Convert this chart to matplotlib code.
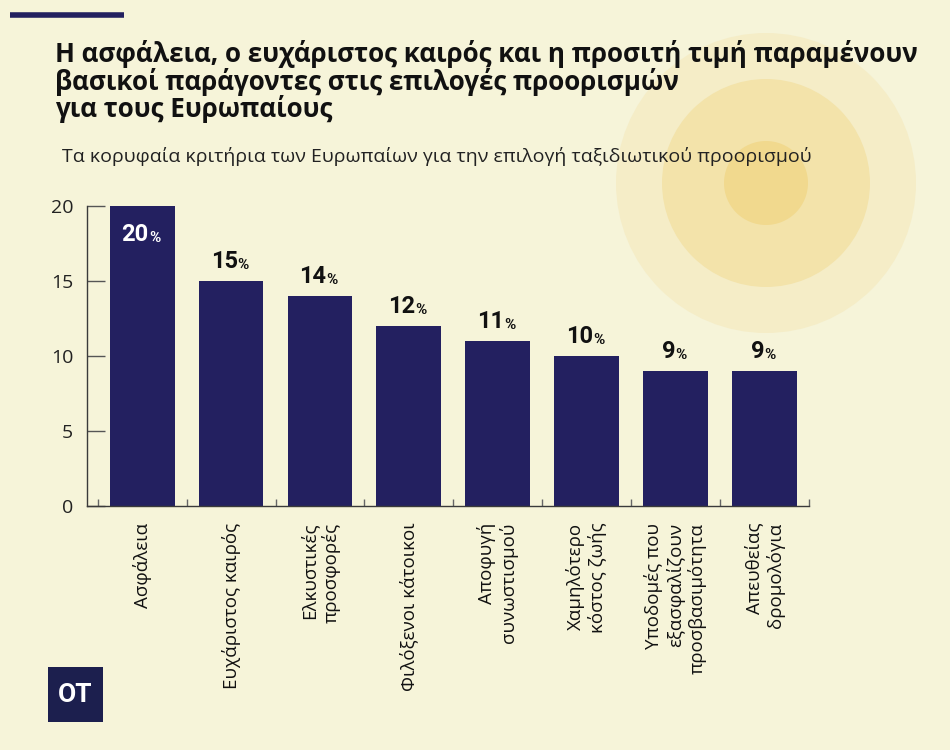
import matplotlib
matplotlib.use("Agg")
import matplotlib.pyplot as plt
from matplotlib.patches import Circle, Rectangle

# ------------------------------------------------------------
# Data
# ------------------------------------------------------------
categories = [
    "Ασφάλεια",
    "Ευχάριστος καιρός",
    "Ελκυστικές\nπροσφορές",
    "Φιλόξενοι κάτοικοι",
    "Αποφυγή\nσυνωστισμού",
    "Χαμηλότερο\nκόστος ζωής",
    "Υποδομές που\nεξασφαλίζουν\nπροσβασιμότητα",
    "Απευθείας\nδρομολόγια",
]
values = [20, 15, 14, 12, 11, 10, 9, 9]
y_ticks = [0, 5, 10, 15, 20]

title = ("Η ασφάλεια, ο ευχάριστος καιρός και η προσιτή τιμή παραμένουν\n"
         "βασικοί παράγοντες στις επιλογές προορισμών\n"
         "για τους Ευρωπαίους")
subtitle = "Τα κορυφαία κριτήρια των Ευρωπαίων για την επιλογή ταξιδιωτικού προορισμού"

# ------------------------------------------------------------
# Style
# ------------------------------------------------------------
BG = "#F6F4D9"
NAVY = "#232060"
LOGO = "#1C1F4E"
AXIS_COL = "#3a3a3a"
TXT = "#111111"

fig = plt.figure(figsize=(9.5, 7.5), dpi=100)
fig.patch.set_facecolor(BG)

# background layer in pixel-like coords
bg = fig.add_axes([0, 0, 1, 1], zorder=0)
bg.set_xlim(0, 950)
bg.set_ylim(750, 0)
bg.axis("off")
for r, c in [(150, "#F5EDC7"), (104, "#F3E3AA"), (42, "#F1D98E")]:
    bg.add_patch(Circle((766, 183), r, facecolor=c, edgecolor="none"))
bg.plot([10, 124], [15, 15], color=NAVY, lw=4, solid_capstyle="butt")
bg.add_patch(Rectangle((48, 667), 55, 55, facecolor=LOGO, edgecolor="none"))
bg.text(75.5, 695, "OT", color="white", fontsize=19, fontweight="bold",
        family=["Roboto", "DejaVu Sans"], ha="center", va="center")

fig.text(55 / 950, 1 - 40 / 750, title, fontsize=18.7, fontweight="bold",
         family=["Open Sans", "DejaVu Sans"], color=TXT, ha="left", va="top",
         linespacing=0.98)
fig.text(62 / 950, 1 - 156 / 750, subtitle, fontsize=14, fontweight="normal",
         family=["Open Sans", "DejaVu Sans"], color="#222222", ha="left", va="center")

# ------------------------------------------------------------
# Chart
# ------------------------------------------------------------
ax = fig.add_axes([87 / 950, 1 - 506 / 750, (809 - 87) / 950, 300 / 750], zorder=2)
ax.set_facecolor("none")

x = list(range(len(categories)))
bars = ax.bar(x, values, width=0.73, color=NAVY, zorder=2)

ax.set_xlim(-0.62, len(categories) - 0.5)
ax.set_ylim(0, 20)

for s in ["top", "right"]:
    ax.spines[s].set_visible(False)
for s in ["left", "bottom"]:
    ax.spines[s].set_color(AXIS_COL)
    ax.spines[s].set_linewidth(1.0)

ax.set_yticks(y_ticks)
ax.set_yticklabels([str(v) for v in y_ticks], fontsize=14,
                   family=["Open Sans", "DejaVu Sans"], color="#222222")
ax.tick_params(axis="y", direction="in", length=13, width=1.0, color="#555555", pad=10)

ax.set_xticks(x)
ax.set_xticklabels(categories, rotation=90, fontsize=13.5,
                   family=["Open Sans", "DejaVu Sans"], color=TXT,
                   ha="center", va="top", multialignment="right", linespacing=1.2)
ax.tick_params(axis="x", which="major", length=0, pad=12)
ax.set_xticks([i - 0.5 for i in range(len(categories) + 1)], minor=True)
ax.tick_params(axis="x", which="minor", direction="in", length=5, width=1.0, color="#666666")

# value labels: big digits + small percent sign
for i, v in enumerate(values):
    inside = v == max(values)
    col = "white" if inside else TXT
    if inside:
        num = ax.annotate(str(v), xy=(i, v), xytext=(-5, -12), textcoords="offset points",
                          ha="center", va="top", fontsize=17, fontweight="bold",
                          family=["Roboto", "DejaVu Sans"], color=col, zorder=3)
    else:
        num = ax.annotate(str(v), xy=(i, v), xytext=(-5, 6), textcoords="offset points",
                          ha="center", va="bottom", fontsize=17, fontweight="bold",
                          family=["Roboto", "DejaVu Sans"], color=col, zorder=3)
    ax.annotate("%", xy=(1, 0.02), xycoords=num, xytext=(0, 0), textcoords="offset points",
                ha="left", va="bottom", fontsize=11, fontweight="bold",
                family=["Roboto", "DejaVu Sans"], color=col, zorder=3)

fig.savefig("out.png", dpi=100, facecolor=BG)
